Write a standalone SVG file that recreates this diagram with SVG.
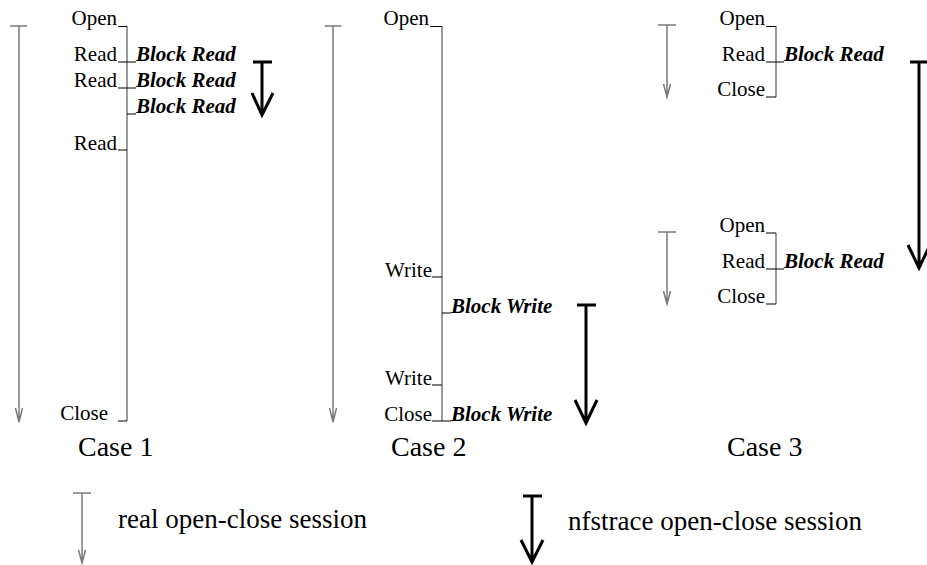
<svg xmlns="http://www.w3.org/2000/svg" width="927" height="565" viewBox="0 0 927 565">
<style>
.lbl{font-family:"Liberation Serif","Times New Roman",serif;font-size:21px;fill:#000}
.blk{font-family:"Liberation Serif","Times New Roman",serif;font-size:21px;font-weight:bold;font-style:italic;fill:#000}
.cap{font-family:"Liberation Serif","Times New Roman",serif;font-size:28px;fill:#000}
.leg{font-family:"Liberation Serif","Times New Roman",serif;font-size:27px;fill:#000}
.thin{stroke:#7a7a7a;stroke-width:1.5;fill:none}
.tick{stroke:#000;stroke-width:1;fill:none}
.thick{stroke:#000;stroke-width:3;fill:none}
</style>
<rect width="927" height="565" fill="#fff"/>
<g id="connectors">
  <!-- Case 1 real session arrow -->
  <path class="thin" d="M10,26 H27 M19,26 V421 M15.5,408 L19,422 L22.5,408"/>
  <!-- Case 1 bracket -->
  <path class="thin" d="M127,26 V421"/>
  <path class="tick" d="M118,26.5 H127 M118,62 H136 M118,88 H136 M127,114 H136 M118,150 H127 M118,421 H127"/>
  <!-- Case 1 nfstrace arrow -->
  <path class="thick" d="M253,62 H272 M262,62 V114 M252,93 L262,115 L273,93"/>

  <!-- Case 2 real session arrow -->
  <path class="thin" d="M324.5,26 H341.5 M333,26 V421 M329.5,408 L333,422 L336.5,408"/>
  <!-- Case 2 bracket -->
  <path class="thin" d="M442,26 V421"/>
  <path class="tick" d="M430,26.5 H442 M432,277 H442 M442,313 H451 M432,385 H442 M432,421 H451"/>
  <!-- Case 2 nfstrace arrow -->
  <path class="thick" d="M577,305 H596 M586,305 V421 M575,400 L586,423 L597,400"/>

  <!-- Case 3 real session arrows -->
  <path class="thin" d="M658,25 H676 M667,25 V96 M663.5,84 L667,97 L670.5,84"/>
  <path class="thin" d="M658,232 H676 M667,232 V303 M663.5,291 L667,304 L670.5,291"/>
  <!-- Case 3 brackets -->
  <path class="thin" d="M776,26 V97 M776,233 V304"/>
  <path class="tick" d="M766,26.5 H776 M766,62 H784 M766,97 H776 M766,233 H776 M766,269 H784 M766,304 H776"/>
  <!-- Case 3 nfstrace arrow -->
  <path class="thick" d="M910,62 H929 M919,62 V266 M908,245 L919,268 L930,245"/>

  <!-- Legend arrows -->
  <path class="thin" d="M73,493 H91 M82,493 V562 M78.5,550 L82,563 L85.5,550"/>
  <path class="thick" d="M523,496 H542 M532,496 V560 M521,540 L532,562 L543,540"/>
</g>
<g id="case1">
  <text class="lbl" x="117" y="25" text-anchor="end">Open</text>
  <text class="lbl" x="117" y="61" text-anchor="end">Read</text>
  <text class="lbl" x="117" y="87" text-anchor="end">Read</text>
  <text class="lbl" x="117" y="150" text-anchor="end">Read</text>
  <text class="lbl" x="108" y="420" text-anchor="end">Close</text>
  <text class="blk" x="136" y="61">Block Read</text>
  <text class="blk" x="136" y="87">Block Read</text>
  <text class="blk" x="136" y="113">Block Read</text>
  <text class="cap" x="78" y="456">Case 1</text>
</g>
<g id="case2">
  <text class="lbl" x="429" y="25" text-anchor="end">Open</text>
  <text class="lbl" x="432" y="277" text-anchor="end">Write</text>
  <text class="lbl" x="432" y="385" text-anchor="end">Write</text>
  <text class="lbl" x="432" y="421" text-anchor="end">Close</text>
  <text class="blk" x="451" y="313">Block Write</text>
  <text class="blk" x="451" y="421">Block Write</text>
  <text class="cap" x="391" y="456">Case 2</text>
</g>
<g id="case3">
  <text class="lbl" x="765" y="25" text-anchor="end">Open</text>
  <text class="lbl" x="765" y="61" text-anchor="end">Read</text>
  <text class="lbl" x="765" y="96" text-anchor="end">Close</text>
  <text class="blk" x="784" y="61">Block Read</text>
  <text class="lbl" x="765" y="232" text-anchor="end">Open</text>
  <text class="lbl" x="765" y="268" text-anchor="end">Read</text>
  <text class="lbl" x="765" y="303" text-anchor="end">Close</text>
  <text class="blk" x="784" y="268">Block Read</text>
  <text class="cap" x="727" y="456">Case 3</text>
</g>
<g id="legend">
  <text class="leg" x="118" y="528">real open-close session</text>
  <text class="leg" x="568" y="530">nfstrace open-close session</text>
</g>
</svg>
